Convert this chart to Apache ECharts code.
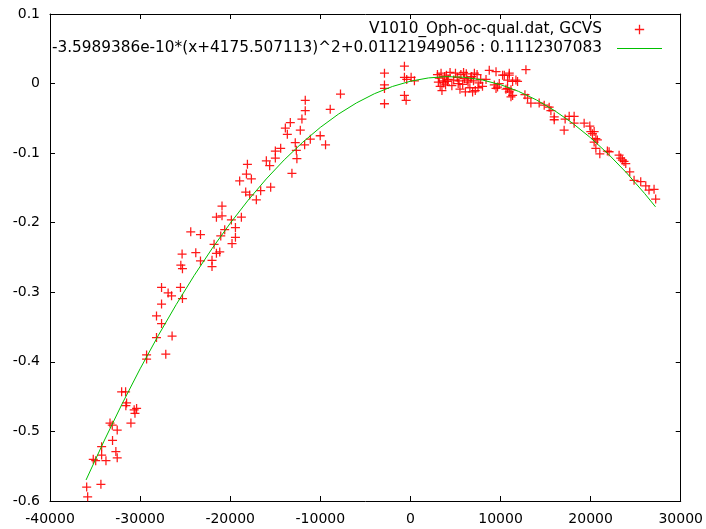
<!DOCTYPE html>
<html>
<head>
<meta charset="utf-8">
<script src="https://cdn.jsdelivr.net/npm/echarts@6/dist/echarts.min.js"></script>
<style>
html,body{margin:0;padding:0;background:#fff;}
#chart{width:706px;height:529px;}
</style>
</head>
<body>
<div id="chart"></div>
<script>
// Observed O-C points (x = epoch, y = O-C in days)
const obsX = [
-35930,-35820,-34350,-35200,-34930,-33790,-34270,-34270,-32690,-32540,
-33060,-32540,-33340,-33090,-31020,-30660,-30390,-30570,-31500,-31580,
-32050,-31610,-29280,-29280,-27150,-28180,-26450,-27620,-28180,-27620,
-25300,-26890,-26510,-27620,-25520,-25480,-25300,-25340,-23820,-23300,
-22020,-22020,-21530,-21160,-24380,-23300,-21790,-20610,-21050,-21530,
-20910,-20910,-19870,-18760,-19420,-19420,-19800,-18280,-17840,-17650,
-18950,-18200,-18090,-17100,-16620,-15510,-15990,-15620,-14990,-14990,
-14400,-13150,-12660,-12600,-12780,-13880,-13660,-13330,-12220,-12040,
-11670,-11670,-11740,-11110,-10010,-9420,-8900,-7760,
-2880,-2880,-2880,-2880,-665,-665,-410,-665,-476,78,443,
3000,3200,3400,3600,3800,3100,3300,3500,3700,4000,4200,4400,3900,4100,
5000,5200,5400,5600,5800,6000,6200,6400,6600,6800,7000,7200,7400,7600,
5500,6100,6900,7800,8000,5300,6300,7100,5900,6700,7500,4800,4600,
8750,9500,8390,9310,9670,9500,9860,10420,10970,10780,11710,11890,10780,
11160,11160,12820,12710,13000,13370,14290,14850,15400,15590,15960,15960,
17060,17620,18170,17170,18170,19280,19910,20020,20200,20390,20580,20750,
20390,20580,21020,21860,22050,23160,23340,23520,23710,23900,24340,24820,
25560,26120,26480,27040,27220,10230,10970,11340,10600,10970,11340
];
const obsY = [
-0.580,-0.594,-0.576,-0.540,-0.542,-0.542,-0.534,-0.522,-0.529,-0.538,
-0.513,-0.498,-0.488,-0.491,-0.488,-0.469,-0.467,-0.474,-0.459,-0.463,
-0.443,-0.443,-0.390,-0.396,-0.389,-0.365,-0.363,-0.345,-0.334,-0.317,
-0.309,-0.301,-0.305,-0.293,-0.293,-0.261,-0.266,-0.245,-0.243,-0.255,
-0.254,-0.263,-0.244,-0.242,-0.213,-0.217,-0.231,-0.210,-0.219,-0.192,
-0.190,-0.176,-0.196,-0.192,-0.207,-0.221,-0.230,-0.156,-0.160,-0.137,
-0.140,-0.130,-0.116,-0.167,-0.154,-0.149,-0.111,-0.118,-0.097,-0.107,
-0.093,-0.129,-0.096,-0.108,-0.085,-0.064,-0.073,-0.056,-0.067,-0.051,
-0.024,-0.039,-0.088,-0.080,-0.075,-0.088,-0.037,-0.015,
0.015,-0.002,-0.007,-0.029,0.025,0.009,0.006,-0.017,-0.024,0.009,0.004,
0.013,0.008,0.015,0.004,0.010,0.002,-0.004,-0.010,0.001,0.012,0.006,0.016,-0.002,0.003,
0.015,0.009,0.004,0.013,-0.001,0.007,0.014,0.002,-0.006,0.010,0.004,-0.010,0.013,0.001,
-0.008,-0.012,-0.012,0.006,-0.004,0.000,0.005,0.015,0.016,0.008,-0.006,0.005,-0.003,
0.019,0.017,0.006,-0.002,-0.005,-0.007,0.000,0.012,0.012,0.005,0.005,0.003,-0.007,
-0.009,-0.019,0.020,-0.016,-0.021,-0.028,-0.028,-0.031,-0.034,-0.039,-0.048,-0.052,
-0.067,-0.047,-0.047,-0.051,-0.057,-0.057,-0.061,-0.069,-0.072,-0.069,-0.079,-0.081,
-0.084,-0.093,-0.101,-0.097,-0.098,-0.103,-0.107,-0.110,-0.112,-0.115,-0.127,-0.139,
-0.141,-0.147,-0.153,-0.152,-0.166,0.012,0.015,0.003,-0.008,-0.012,-0.017
];
// Fitted curve
const fitX = [-36000,-34000,-32000,-30000,-28000,-26000,-24000,-22000,-20000,-18000,
-16000,-14000,-12000,-10000,-8000,-6000,-4000,-2000,0,2000,4000,6000,8000,10000,
12000,14000,16000,18000,20000,22000,24000,26000,27200];
const fitY = [-0.5698,-0.5137,-0.4604,-0.4100,-0.3625,-0.3178,-0.2759,-0.2369,-0.2008,-0.1675,
-0.1371,-0.1096,-0.0849,-0.0630,-0.0440,-0.0279,-0.0146,-0.0042,0.0034,0.0081,0.0100,0.0090,0.0051,-0.0016,
-0.0112,-0.0236,-0.0389,-0.0570,-0.0780,-0.1018,-0.1285,-0.1581,-0.1772];

const seriesNames = ['V1010_Oph-oc-qual.dat, GCVS',
  '-3.5989386e-10*(x+4175.507113)^2+0.01121949056 : 0.1112307083'];
const xRange = [-40000, 30000, 10000];
const yRange = [-0.6, 0.1, 0.1];

const obsData = obsX.map((x, i) => [x, obsY[i]]);
const fitData = fitX.map((x, i) => [x, fitY[i]]);

const FONT = 'DejaVu Sans';
const plusPath = 'path://M4.3,0H5.7V4.3H10V5.7H5.7V10H4.3V5.7H0V4.3H4.3Z';
const plusLegend = 'path://M-2.5,-2.5L-2.5,-2.49M4.3,0H5.7V4.3H10V5.7H5.7V10H4.3V5.7H0V4.3H4.3ZM12.5,12.5L12.5,12.49';
const lineLegend = 'path://M0,0L0,0.01M0,6.5H45V7.6H0ZM45,14L45,13.99';

const chart = echarts.init(document.getElementById('chart'), null, {renderer: 'canvas'});
const axisCommon = {
  type: 'value',
  splitLine: {show: false},
  axisLine: {show: true, onZero: false, lineStyle: {color: '#000', width: 1}},
  axisTick: {show: true, inside: true, length: 5, lineStyle: {color: '#000'}}
};
chart.setOption({
  animation: false,
  backgroundColor: '#fff',
  grid: {left: 50, right: 24, top: 14, bottom: 28, containLabel: false},
  xAxis: [
    Object.assign({}, axisCommon, {
      position: 'bottom', min: xRange[0], max: xRange[1], interval: xRange[2],
      axisLabel: {color: '#000', fontFamily: FONT, fontSize: 14, margin: 11,
        formatter: v => String(v)}
    }),
    Object.assign({}, axisCommon, {
      position: 'top', min: xRange[0], max: xRange[1], interval: xRange[2],
      axisLabel: {show: false}
    })
  ],
  yAxis: [
    Object.assign({}, axisCommon, {
      position: 'left', min: yRange[0], max: yRange[1], interval: yRange[2],
      axisLabel: {color: '#000', fontFamily: FONT, fontSize: 14, margin: 10,
        formatter: v => String(Math.round(v * 10) / 10)}
    }),
    Object.assign({}, axisCommon, {
      position: 'right', min: yRange[0], max: yRange[1], interval: yRange[2],
      axisLabel: {show: false}
    })
  ],
  legend: {
    orient: 'vertical',
    align: 'right',
    right: 44,
    top: 22,
    padding: 0,
    itemGap: 4,
    itemWidth: 45,
    itemHeight: 14,
    textStyle: {color: '#000', fontFamily: FONT, fontSize: 15.3, padding: [0, 10, 0, 0]},
    data: [
      {name: seriesNames[0], icon: plusLegend},
      {name: seriesNames[1], icon: lineLegend}
    ]
  },
  series: [
    {
      name: seriesNames[0],
      type: 'scatter',
      data: obsData,
      symbol: plusPath,
      symbolSize: 9,
      itemStyle: {color: '#ff0000', opacity: 0.9},
      z: 2
    },
    {
      name: seriesNames[1],
      type: 'line',
      data: fitData,
      showSymbol: false,
      symbol: 'none',
      lineStyle: {color: '#00c000', width: 1},
      itemStyle: {color: '#00c000'},
      z: 3
    }
  ]
});
</script>
</body>
</html>
